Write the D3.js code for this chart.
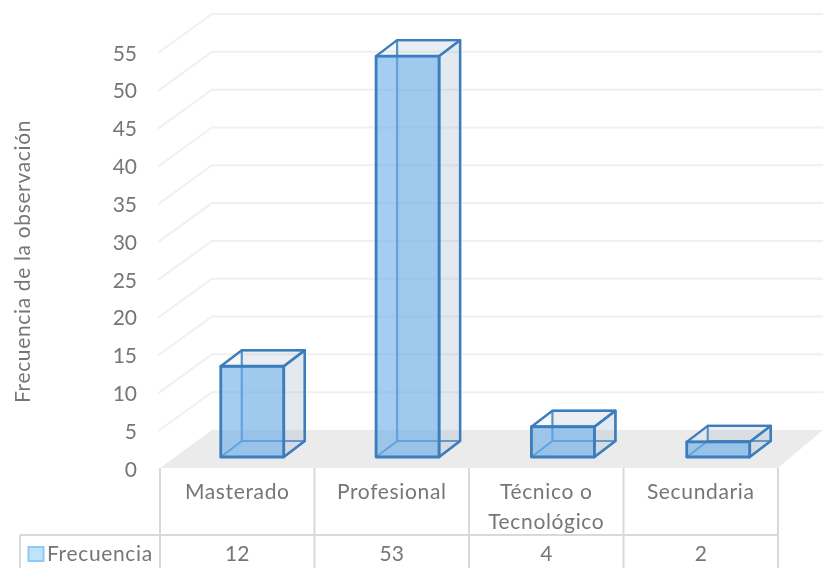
<!DOCTYPE html>
<html>
<head>
<meta charset="utf-8">
<script src="https://cdn.jsdelivr.net/npm/d3@7"></script>
<style>
html,body{margin:0;padding:0;background:#fff}
svg{display:block;filter:blur(0.4px)}
text{font-family:Lato,"Open Sans",sans-serif;fill:#767676}
.wide{letter-spacing:0.65px}
</style>
</head>
<body>
<svg id="chart" width="823" height="568"></svg>
<script>
const categories = ["Masterado", "Profesional", "Técnico o|Tecnológico", "Secundaria"];
const frecuencia = [12, 53, 4, 2];
const tickValues = [0, 5, 10, 15, 20, 25, 30, 35, 40, 45, 50, 55];
const seriesName = "Frecuencia";
const axisTitle = "Frecuencia de la observación";

const svg = d3.select("#chart");

// 3D frame: the wall sits up and to the right of the front plane.
const wallDx = 52, wallDy = 39;
const tableRight = 778, tableLeft = 160, tableMid = 535, tableBottom = 568, legendLeft = 20;
const floorFront = 468;
const x = d3.scaleBand().domain(d3.range(categories.length)).range([tableLeft, tableRight]);
const y = d3.scaleLinear().domain([0, 55]).range([469, 53]);
// Boxes stand on the receding floor, so their band is set back from the table columns.
const barBand = d3.scaleBand().domain(d3.range(categories.length)).range([174.6, 795.9]);
const barWidth = 63, depthDx = 21, depthDy = 16, baseline = 457;
const barLeft = i => barBand(i) + (barBand.bandwidth() - barWidth) / 2;

// Floor
svg.append("polygon")
  .attr("points", [[tableLeft, floorFront], [tableLeft + wallDx, y(0) - wallDy], [823, y(0) - wallDy], [tableRight, floorFront]].join(" "))
  .attr("fill", "#ebebeb");

// Gridlines: a short diagonal along the side wall, then across the back wall
const grid = svg.append("g").attr("fill", "none").attr("stroke", "#f0f0f0").attr("stroke-width", 2);
tickValues.slice(1).forEach(v => {
  grid.append("polyline")
    .attr("points", [[tableLeft - 2, y(v)], [tableLeft + wallDx, y(v) - wallDy], [823, y(v) - wallDy]].join(" "));
});

// Value axis labels
const axis = svg.append("g")
  .attr("transform", "translate(137,0)")
  .call(d3.axisLeft(y).tickValues(tickValues).tickSize(0).tickPadding(0));
axis.select(".domain").remove();
axis.selectAll("text").style("font-size", "21px").attr("fill", "#767676").attr("dy", "0.34em");

svg.append("text")
  .attr("class", "wide")
  .attr("transform", "translate(30,261.5) rotate(-90)")
  .attr("text-anchor", "middle")
  .style("font-size", "21px")
  .text(axisTitle);

// Translucent boxes, back faces first
const stroke = "#3b7dbd";
categories.forEach((c, i) => {
  const l = barLeft(i), r = l + barWidth;
  const b = baseline, t = b - (y(0) - y(frecuencia[i]));
  const g = svg.append("g").attr("stroke-linejoin", "round");
  const face = (pts, fill, op, sw, col) => g.append("polygon")
    .attr("points", pts.join(" "))
    .attr("fill", fill).attr("fill-opacity", op)
    .attr("stroke", col || stroke).attr("stroke-width", sw);
  // back wall and floor of the box
  face([[l + depthDx, t - depthDy], [r + depthDx, t - depthDy], [r + depthDx, b - depthDy], [l + depthDx, b - depthDy]], "#a9bccb", 0.16, 2.2, "#4f8fcb");
  face([[l, b], [l + depthDx, b - depthDy], [r + depthDx, b - depthDy], [r, b]], "#a9bccb", 0.16, 2.2, "#4f8fcb");
  // right side and lid
  face([[r, t], [r + depthDx, t - depthDy], [r + depthDx, b - depthDy], [r, b]], "#a9bccb", 0.2, 2.4);
  face([[l, t], [l + depthDx, t - depthDy], [r + depthDx, t - depthDy], [r, t]], "#a9bccb", 0.1, 2.4);
  // front
  face([[l, t], [r, t], [r, b], [l, b]], "#6eaee8", 0.62, 2.8);
});

// Data table below the plot
const table = svg.append("g").attr("stroke", "#d9d9d9").attr("stroke-width", 2);
x.domain().concat(categories.length).forEach(i => {
  const px = tableLeft + i * x.bandwidth();
  table.append("line").attr("x1", px).attr("x2", px).attr("y1", floorFront).attr("y2", tableBottom);
});
table.append("line").attr("x1", legendLeft).attr("x2", tableRight).attr("y1", tableMid).attr("y2", tableMid);
table.append("line").attr("x1", legendLeft).attr("x2", legendLeft).attr("y1", tableMid).attr("y2", tableBottom);

categories.forEach((c, i) => {
  const cx = x(i) + x.bandwidth() / 2;
  c.split("|").forEach((line, k) => {
    svg.append("text").attr("class", "wide").attr("x", cx).attr("y", 499 + k * 30)
      .attr("text-anchor", "middle").style("font-size", "21px").text(line);
  });
  svg.append("text").attr("x", cx).attr("y", 561)
    .attr("text-anchor", "middle").style("font-size", "21px").text(frecuencia[i]);
});

// Legend key
svg.append("rect").attr("x", 28.5).attr("y", 547).attr("width", 15).attr("height", 14)
  .attr("fill", "#bfe3fb").attr("stroke", "#90c8f5").attr("stroke-width", 2);
svg.append("text").attr("class", "wide").attr("x", 47).attr("y", 561).style("font-size", "21px").text(seriesName);
</script>
</body>
</html>
